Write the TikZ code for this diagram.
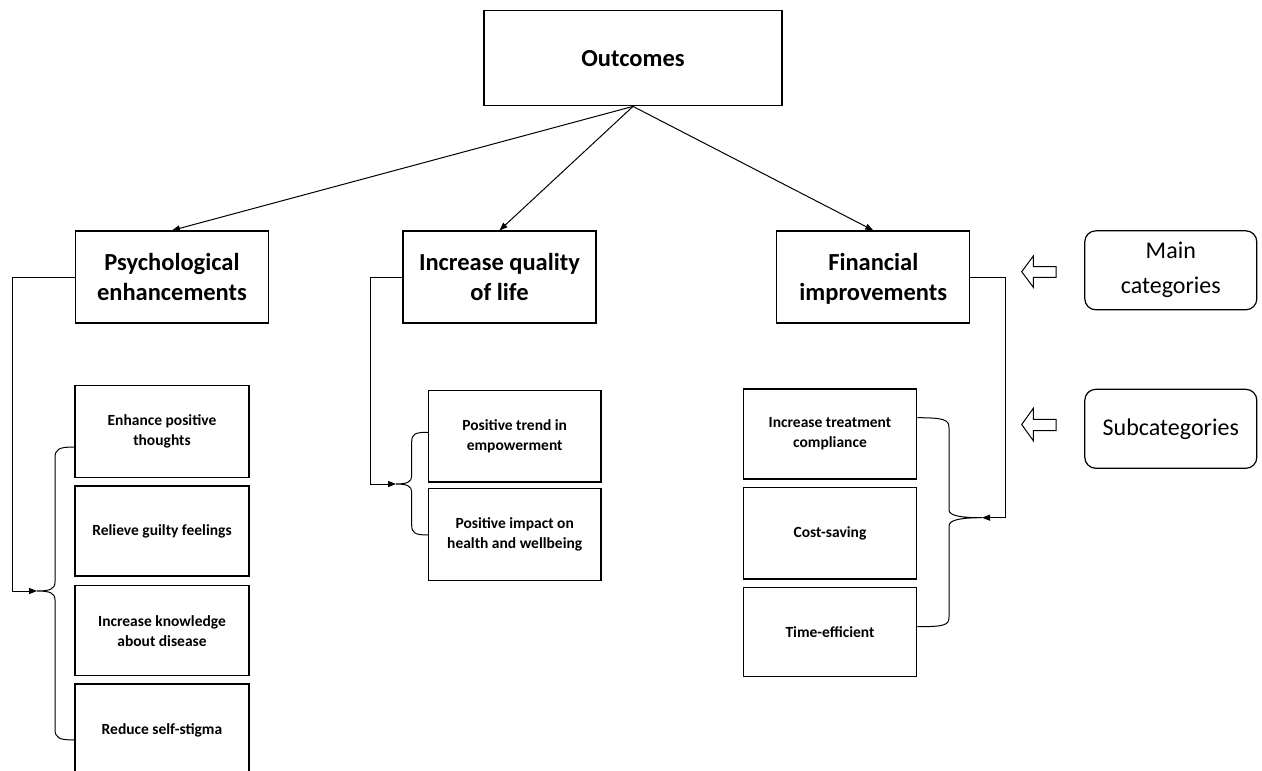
\documentclass[tikz,border=0pt]{standalone}
\usepackage{fontspec}
\setmainfont{Carlito}
\usetikzlibrary{arrows.meta}
\begin{document}
\begin{tikzpicture}[x=1pt,y=-1pt,
 box/.style={draw, line width=1.2pt, rectangle, inner sep=0pt, align=center},
 mainbox/.style={box, minimum width=193pt, minimum height=92pt, text depth=0pt, font=\fontsize{24.5}{30}\selectfont\bfseries},
 subbox/.style={box, minimum width=174pt, font=\fontsize{15.5}{20}\selectfont\bfseries},
 legbox/.style={draw, line width=1.2pt, rounded corners=11pt, minimum width=172pt, minimum height=79pt, inner sep=0pt, align=center, font=\fontsize{24}{35}\selectfont},
 conn/.style={line width=1pt},
 arr/.style={conn, -{Triangle[length=8pt,width=6pt]}},
 hollow/.style={draw, line width=1pt, fill=white, line join=miter}]
\useasboundingbox (0,0) rectangle (1262,771);
\clip (0,0) rectangle (1262,771);
\fill[white] (0,0) rectangle (1262,771);

% top
\node[box, minimum width=298pt, minimum height=95pt, font=\fontsize{24.5}{30}\selectfont\bfseries] (out) at (633,58.3) {Outcomes};

% main categories
\node[mainbox] (psy) at (172,277) {Psychological\\enhancements};
\node[mainbox] (qol) at (499.5,277) {Increase quality\\of life};
\node[mainbox] (fin) at (873.3,277) {Financial\\improvements};

\draw[arr] (out.south) -- (psy.north);
\draw[arr] (out.south) -- (qol.north);
\draw[arr] (out.south) -- (fin.north);

% psychological subcategories
\node[subbox, minimum height=92pt] (p1) at (162,431.7) {Enhance positive\\thoughts};
\node[subbox, minimum height=90pt] (p2) at (162,530.9) {Relieve guilty feelings};
\node[subbox, minimum height=90pt] (p3) at (162,630.7) {Increase knowledge\\about disease};
\node[subbox, minimum height=92pt] (p4) at (162,730) {Reduce self-stigma};

\coordinate (pc) at (37,591);
\draw[arr] (psy.west) -- (12,277) |- (pc);
\draw[conn] (p1.west |- 0,447) .. controls (59,447) and (55,449) .. (55,458)
  -- (55,582) .. controls (55,589) and (50,591) .. (pc)
  .. controls (50,591) and (55,593) .. (55,600)
  -- (55,729) .. controls (55,738) and (59,740) .. (p4.west |- 0,740);

% quality of life subcategories
\node[subbox, minimum width=172.7pt, minimum height=91.3pt] (q1) at (514.7,436.3) {Positive trend in\\empowerment};
\node[subbox, minimum width=172.7pt, minimum height=92pt] (q2) at (514.7,534.7) {Positive impact on\\health and wellbeing};

\coordinate (qc) at (396,484);
\draw[arr] (qol.west) -- (370,277) |- (qc);
\draw[conn] (q1.west |- 0,432.3) .. controls (415,432.3) and (411.7,434) .. (411.7,442)
  -- (411.7,476) .. controls (411.7,482) and (407,484) .. (qc)
  .. controls (407,484) and (411.7,486) .. (411.7,492)
  -- (411.7,525) .. controls (411.7,533) and (415,535) .. (q2.west |- 0,535);

% financial subcategories
\node[subbox, minimum width=173.4pt, minimum height=90pt] (f1) at (830,434) {Increase treatment\\compliance};
\node[subbox, minimum width=173.4pt, minimum height=91.7pt] (f2) at (830,533.2) {Cost-saving};
\node[subbox, minimum width=173.4pt, minimum height=89.4pt] (f3) at (830,632) {Time-efficient};

\coordinate (fc) at (982,517.7);
\draw[arr] (fin.east) -- (1005.7,277) |- (fc);
\draw[conn] (f1.east |- 0,417.7) .. controls (945,417.7) and (949,420) .. (949,428)
  -- (949,510) .. controls (949,516) and (962,517.7) .. (fc)
  .. controls (962,517.7) and (949,519.5) .. (949,526)
  -- (949,617) .. controls (949,625) and (945,626.7) .. (f3.east |- 0,626.7);

% legend
\node[legbox] (lmain) at (1170.8,270.3) {Main\\categories};
\node[legbox] (lsub) at (1170.8,428.8) {Subcategories};

\draw[hollow] (1056,266.7) -- (1033.3,266.7) -- (1033.3,256) -- (1021.7,271.7)
  -- (1033.3,287.3) -- (1033.3,277.3) -- (1056,277.3) -- cycle;
\draw[hollow] (1056,419.3) -- (1033.3,419.3) -- (1033.3,408.3) -- (1021.7,424.5)
  -- (1033.3,440.7) -- (1033.3,430.7) -- (1056,430.7) -- cycle;
\end{tikzpicture}
\end{document}
